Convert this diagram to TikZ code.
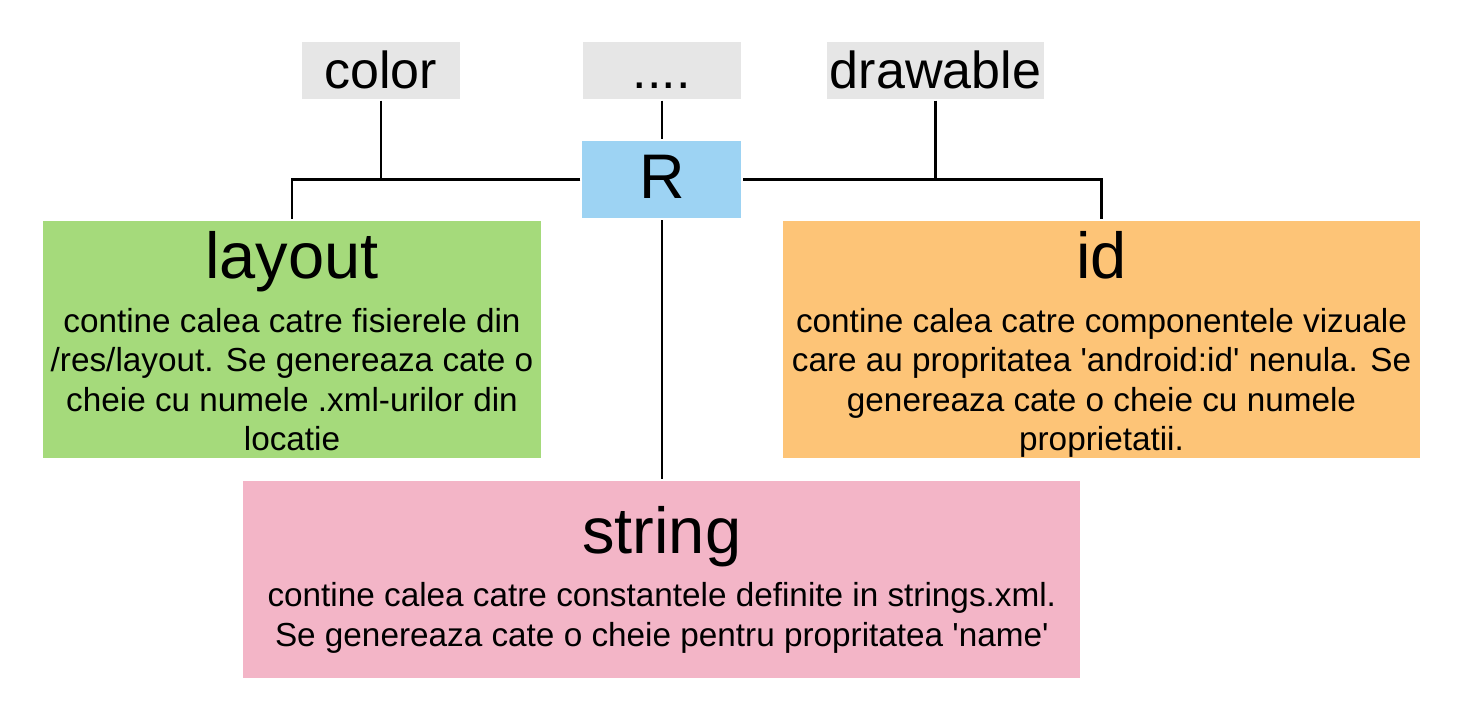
\documentclass[tikz,border=0pt]{standalone}
\usepackage{fontspec}
\setmainfont{Liberation Sans}[Ligatures=TeXOff]
\definecolor{graybox}{RGB}{230,230,230}
\definecolor{rblue}{RGB}{157,211,243}
\definecolor{lgreen}{RGB}{165,218,123}
\definecolor{lorange}{RGB}{253,196,119}
\definecolor{lpink}{RGB}{243,181,199}
\begin{document}
\begin{tikzpicture}[x=1pt,y=-1pt,
  box/.style={draw=none,inner sep=0pt,outer sep=2pt,anchor=center},
  toplabel/.style={box,fill=graybox,minimum height=57pt,font=\fontsize{52}{60}\selectfont,text height=38pt,text depth=2pt},
  title/.style={anchor=base,inner sep=0pt,font=\fontsize{65}{72}\selectfont},
  body/.style={anchor=base,inner sep=0pt,align=center,font=\fontsize{33.3}{39.5}\selectfont},
  conn/.style={line width=2.2pt}]
\useasboundingbox (0,0) rectangle (1462,720);
\fill[white] (0,0) rectangle (1462,720);
% top labels
\node[toplabel,minimum width=158pt] (color) at (380.8,70) {color};
\node[toplabel,minimum width=158pt] (dots) at (661.8,70) {....};
\node[toplabel,minimum width=217pt] (drawable) at (935.5,70) {drawable};
% R
\node[box,fill=rblue,minimum width=159pt,minimum height=77.6pt,font=\fontsize{63}{70}\selectfont,text height=45pt,text depth=7pt] (R) at (661.8,179.5) {R};
% layout
\node[box,fill=lgreen,minimum width=498pt,minimum height=237pt] (layout) at (292,339.5) {};
\node[title] (layoutT) at (292,278.3) {layout};
\node[body] (layoutB) at (292,450.5) {contine calea catre fisierele din\\/res/layout. Se genereaza cate o\\cheie cu numele .xml-urilor din\\locatie};
% id
\node[box,fill=lorange,minimum width=637pt,minimum height=237pt] (id) at (1101.5,339.5) {};
\node[title] (idT) at (1101.5,278.3) {id};
\node[body] (idB) at (1101.5,450.5) {contine calea catre componentele vizuale\\care au propritatea 'android:id' nenula. Se\\genereaza cate o cheie cu numele\\proprietatii.};
% string
\node[box,fill=lpink,minimum width=837pt,minimum height=197pt] (string) at (661.8,579.5) {};
\node[title] (stringT) at (661.8,553.3) {string};
\node[body] (stringB) at (661.8,646) {contine calea catre constantele definite in strings.xml.\\Se genereaza cate o cheie pentru propritatea 'name'};
% connectors
\draw[conn] (R.west) -| (layout.north);
\draw[conn] (color.south) -- (color.south |- R.west);
\draw[conn] (R.east) -| (id.north);
\draw[conn] (drawable.south) -- (drawable.south |- R.east);
\draw[conn] (dots.south) -- (R.north);
\draw[conn] (R.south) -- (string.north);
\end{tikzpicture}
\end{document}
